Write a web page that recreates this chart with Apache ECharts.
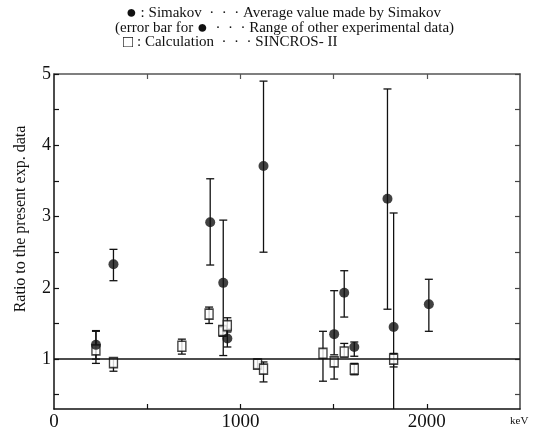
<!DOCTYPE html>
<html>
<head>
<meta charset="utf-8">
<script src="https://cdn.jsdelivr.net/npm/echarts@6/dist/echarts.min.js"></script>
<style>
  html, body { margin: 0; padding: 0; background: #fff; }
  #chart { width: 536px; height: 431px; }
</style>
</head>
<body>
<div id="chart"></div>
<script>
// Simakov averages (keV, ratio) and the range of other experimental data
const simakovEnergy = [225, 319, 838, 908, 930, 1124, 1503, 1557, 1611, 1789, 1822, 2011];
const simakovRatio  = [1.20, 2.33, 2.92, 2.07, 1.29, 3.71, 1.35, 1.93, 1.17, 3.25, 1.45, 1.77];
const simakovLow    = [1.00, 2.10, 2.32, 1.05, 1.17, 2.50, 1.06, 1.59, 1.04, 1.70, 0.00, 1.39];
const simakovHigh   = [1.40, 2.54, 3.53, 2.95, 1.42, 4.90, 1.96, 2.24, 1.24, 4.79, 3.05, 2.12];

// SINCROS-II calculation
const calcEnergy = [225, 319, 686, 832, 905, 930, 1092, 1124, 1443, 1503, 1557, 1611, 1822];
const calcRatio  = [1.13, 0.95, 1.18, 1.63, 1.40, 1.47, 0.93, 0.86, 1.08, 0.96, 1.10, 0.86, 1.00];
const calcLow    = [0.94, 0.83, 1.07, 1.50, 1.32, 1.38, 0.87, 0.68, 0.69, 0.72, 1.03, 0.78, 0.89];
const calcHigh   = [1.39, 1.01, 1.28, 1.73, 1.45, 1.58, 1.00, 0.96, 1.39, 1.00, 1.22, 0.94, 1.08];

// Axis ticks and labels
const xTicks = [500, 1000, 1500, 2000];
const xLabels = [0, 1000, 2000];
const yTicks = [0.5, 1, 1.5, 2, 2.5, 3, 3.5, 4, 4.5, 5];
const yLabels = [1, 2, 3, 4, 5];
const referenceRatio = 1;

const SERIF = '"Liberation Serif", "DejaVu Serif", serif';
const INK = '#111';

function errorBars(params, api) {
  const x = api.value(0), lo = api.value(1), hi = api.value(2);
  const top = api.coord([x, hi]);
  const bot = api.coord([x, lo]);
  const cs = params.coordSys;
  const yMin = cs.y, yMax = cs.y + cs.height;
  const y1 = Math.max(top[1], yMin), y2 = Math.min(bot[1], yMax);
  const cap = 4;
  const style = { stroke: INK, lineWidth: 1.3 };
  const children = [{ type: 'line', shape: { x1: top[0], y1: y1, x2: top[0], y2: y2 }, style }];
  if (top[1] >= yMin) children.push({ type: 'line', shape: { x1: top[0] - cap, y1: top[1], x2: top[0] + cap, y2: top[1] }, style });
  if (bot[1] <= yMax) children.push({ type: 'line', shape: { x1: bot[0] - cap, y1: bot[1], x2: bot[0] + cap, y2: bot[1] }, style });
  return { type: 'group', children };
}

const simakovBars = simakovEnergy.map((e, i) => [e, simakovLow[i], simakovHigh[i]]);
const calcBars = calcEnergy.map((e, i) => [e, calcLow[i], calcHigh[i]]);
const simakovPoints = simakovEnergy.map((e, i) => [e, simakovRatio[i]]);
const calcPoints = calcEnergy.map((e, i) => [e, calcRatio[i]]);

const plain = v => String(v);

// Legend lines: body text plus a larger filled dot / open box glyph
const legendRich = {
  dot: { fontFamily: SERIF, fontSize: 18, fill: INK },
  box: { fontFamily: SERIF, fontSize: 17, fill: INK }
};
function legendLine(left, top, text) {
  return {
    type: 'text', left, top,
    style: { text, fontFamily: SERIF, fontSize: 15, fill: INK, rich: legendRich }
  };
}

const chart = echarts.init(document.getElementById('chart'), null, { renderer: 'canvas' });
chart.setOption({
  animation: false,
  backgroundColor: '#fff',
  grid: { left: 54, right: 16, top: 74, bottom: 22, outerBoundsMode: 'none' },
  xAxis: [
    {
      type: 'value', min: 0, max: 2500, position: 'bottom',
      axisLine: { onZero: false, lineStyle: { color: INK, width: 1.5 } },
      axisTick: { inside: true, length: 5, customValues: xTicks, lineStyle: { color: INK, width: 1.2 } },
      axisLabel: { customValues: xLabels, formatter: plain, color: INK, fontFamily: SERIF, fontSize: 19, margin: 4 },
      splitLine: { show: false }
    },
    {
      type: 'value', min: 0, max: 2500, position: 'top',
      axisLine: { onZero: false, lineStyle: { color: '#555', width: 1.5 } },
      axisTick: { inside: true, length: 5, customValues: xTicks, lineStyle: { color: '#555', width: 1.2 } },
      axisLabel: { show: false },
      splitLine: { show: false }
    }
  ],
  yAxis: [
    {
      type: 'value', min: 0.3, max: 5, position: 'left',
      axisLine: { onZero: false, lineStyle: { color: INK, width: 1.5 } },
      axisTick: { inside: true, length: 5, customValues: yTicks, lineStyle: { color: INK, width: 1.2 } },
      axisLabel: { customValues: yLabels, formatter: plain, color: INK, fontFamily: SERIF, fontSize: 18, margin: 3 },
      splitLine: { show: false }
    },
    {
      type: 'value', min: 0.3, max: 5, position: 'right',
      axisLine: { onZero: false, lineStyle: { color: '#444', width: 1.5 } },
      axisTick: { inside: true, length: 5, customValues: yTicks, lineStyle: { color: '#444', width: 1.2 } },
      axisLabel: { show: false },
      splitLine: { show: false }
    }
  ],
  graphic: [
    legendLine(126, 4, '{dot|●} : Simakov  ·  ·  · Average value made by Simakov'),
    legendLine(115, 19, '(error bar for {dot|●}  ·  ·  · Range of other experimental data)'),
    legendLine(123, 34, '{box|□} : Calculation  ·  ·  · SINCROS- II'),
    { type: 'text', x: 21, y: 219, rotation: Math.PI / 2,
      style: { text: 'Ratio to the present exp. data', font: '16px ' + SERIF, fill: INK, align: 'center', verticalAlign: 'middle' } },
    { type: 'text', left: 510, top: 416, style: { text: 'keV', font: '11px ' + SERIF, fill: INK } }
  ],
  series: [
    {
      type: 'custom', name: 'Simakov range', renderItem: errorBars, data: simakovBars,
      encode: { x: 0, y: [1, 2] }, z: 2, silent: true,
      markLine: {
        silent: true, symbol: 'none', label: { show: false },
        lineStyle: { color: INK, width: 1.5, type: 'solid' },
        data: [{ yAxis: referenceRatio }]
      }
    },
    {
      type: 'custom', name: 'Calculation range', renderItem: errorBars, data: calcBars,
      encode: { x: 0, y: [1, 2] }, z: 2, silent: true
    },
    {
      type: 'scatter', name: 'Calculation', data: calcPoints, symbol: 'rect', symbolSize: [8, 10], z: 3,
      itemStyle: { color: '#fff', borderColor: INK, borderWidth: 1.5 }
    },
    {
      type: 'scatter', name: 'Simakov', data: simakovPoints, symbol: 'circle', symbolSize: 10, z: 4,
      itemStyle: { color: INK }
    }
  ]
});
</script>
</body>
</html>
